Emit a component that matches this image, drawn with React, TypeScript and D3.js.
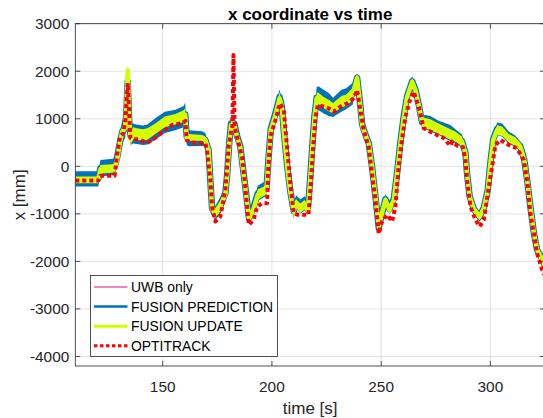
import React from "react";
import * as d3 from "d3";

const W = 543;
const H = 418;
const M = { left: 75.3, right: 545, top: 23.7, bottom: 366 };
const FONT = "'Liberation Sans', Arial, Helvetica, sans-serif";
const AX = "#262626";

// axis settings
const xTicks = [150, 200, 250, 300];
const yTicks = [-4000, -3000, -2000, -1000, 0, 1000, 2000, 3000];

// FUSION series, sampled times [s]
const fusT = [
  110, 120.5, 121.5, 128, 129.2, 130.2, 131.5, 132.8, 133.4, 134.0,
  134.6, 135.3, 136.5, 138, 141, 143, 146.6, 151, 155.8, 159.6,
  160.3, 161.0, 162, 168, 169.5, 171, 171.8, 172.6, 173.8, 176.4,
  178.7, 179.5, 180.5, 181.3, 182.8, 184, 185.5, 187, 188.5, 189.5,
  191.5, 193.5, 196, 197.5, 198.5, 199.5, 201.6, 203.5, 204.5, 205.5,
  207, 208.5, 210, 211, 213, 215, 216.5, 217.5, 218.5, 219.5,
  220.5, 221.4, 223.7, 226, 228, 231.8, 234, 237, 239, 240.5,
  241.3, 242.8, 244.3, 245.8, 247.4, 248.9, 250.4, 252, 253.8, 255.8,
  257.3, 258.8, 260.4, 261.9, 264.2, 265.7, 267.2, 268.7, 270.3, 272.5,
  276.3, 281.7, 284, 287, 288.6, 289.3, 290.5, 292.5, 295.1, 297,
  298.8, 300, 301.3, 303.1, 305.4, 308.4, 311.4, 313.7, 315.5, 316.8,
  318.3, 319.9, 321.4, 323.7, 325.5,
];

// FUSION UPDATE: centre and half spread of the noisy band [mm]
const updMid = [
  -285, -285, -60, -40, 150, 450, 730, 800, 1200, 2020,
  1100, 560, 700, 680, 660, 680, 790, 935, 990, 1055,
  1085, 600, 610, 600, 560, 345, -285, -880, -1000, -835,
  -590, -200, 500, 870, 870, 625, 415, -145, -705, -1090,
  -915, -600, -530, -495, 205, 765, 1080, 1430, 1255, 695,
  -5, -565, -950, -775, -880, -810, -915, -285, 415, 1045,
  1430, 1430, 1340, 1280, 1220, 1360, 1390, 1520, 1860, 1255,
  870, 660, 485, -5, -635, -1265, -985, -705, -915, -705,
  -145, 485, 1045, 1465, 1780, 1605, 1290, 940, 905, 880,
  790, 670, 625, 520, 275, -145, -635, -915, -1055, -880,
  -495, 65, 555, 765, 740, 590, 520, 415, 135, -285,
  -845, -1405, -1755, -1965, -2150,
];
const updHalf = [
  70, 70, 90, 90, 100, 100, 120, 110, 200, 130,
  200, 120, 120, 120, 120, 120, 110, 115, 110, 125,
  135, 100, 70, 60, 60, 60, 60, 80, 100, 115,
  110, 100, 100, 105, 105, 90, 90, 80, 80, 100,
  110, 110, 100, 100, 80, 90, 100, 130, 100, 80,
  80, 80, 120, 90, 100, 100, 100, 80, 80, 100,
  120, 120, 120, 120, 110, 120, 120, 130, 80, 80,
  80, 80, 80, 80, 80, 90, 80, 80, 80, 80,
  80, 80, 90, 100, 80, 80, 80, 100, 110, 110,
  110, 110, 110, 100, 90, 80, 80, 80, 80, 80,
  80, 80, 80, 100, 100, 90, 90, 80, 80, 80,
  80, 80, 80, 80, 80,
];

// FUSION PREDICTION: centre and half spread [mm]
const predMid = [
  -265, -265, -40, -10, 200, 450, 730, 800, 1150, 1780,
  1000, 650, 690, 675, 655, 670, 785, 925, 975, 1045,
  1095, 625, 590, 585, 560, 345, -285, -870, -1000, -825,
  -565, -180, 520, 900, 900, 650, 430, -130, -690, -1080,
  -880, -570, -500, -470, 215, 790, 1110, 1460, 1270, 710,
  10, -550, -940, -740, -840, -780, -870, -270, 430, 1070,
  1440, 1430, 1360, 1300, 1240, 1380, 1420, 1530, 1860, 1270,
  880, 670, 490, 0, -640, -1290, -990, -690, -900, -680,
  -140, 500, 1070, 1480, 1790, 1610, 1300, 930, 930, 900,
  810, 700, 630, 530, 280, -140, -630, -910, -1060, -870,
  -490, 70, 570, 790, 760, 600, 530, 420, 140, -280,
  -840, -1400, -1760, -1950, -2140,
];
const predHalf = [
  160, 160, 175, 175, 200, 250, 230, 210, 200, 180,
  200, 200, 210, 205, 205, 210, 225, 225, 215, 225,
  245, 175, 170, 155, 140, 100, 100, 120, 150, 175,
  185, 150, 150, 180, 180, 120, 120, 110, 110, 130,
  150, 160, 160, 150, 110, 110, 120, 160, 120, 100,
  100, 100, 150, 130, 150, 150, 150, 100, 100, 120,
  235, 250, 250, 240, 200, 230, 220, 230, 100, 100,
  100, 100, 100, 100, 100, 150, 110, 110, 110, 110,
  100, 100, 110, 130, 110, 100, 100, 130, 150, 160,
  150, 170, 150, 140, 110, 100, 100, 100, 110, 100,
  100, 100, 110, 130, 140, 130, 120, 100, 100, 100,
  100, 100, 110, 120, 110,
];

// UWB only (hidden underneath the fusion estimates)
const uwbX = updMid;

// OPTITRACK ground truth
const optT = [
  110, 120.5, 121.4, 128, 129, 130.5, 132, 133, 134, 135.2,
  136.5, 139, 142.8, 146.6, 151, 154.3, 158.8, 160.4, 161, 162.7,
  167, 169.5, 170.3, 171.8, 172.6, 174.1, 176.4, 178.7, 180.2, 181.4,
  181.9, 182.4, 182.9, 184, 186.3, 187.8, 189.4, 191.6, 193.2, 195.5,
  197.8, 198.2, 199.3, 201.6, 203.6, 205.4, 206.9, 208.4, 210, 212,
  216.7, 217.6, 219.1, 220, 221, 223.7, 226, 228.3, 231.3, 234.4,
  237.4, 239, 240.5, 242, 244.3, 245.8, 247.4, 248.9, 250.4, 252.7,
  255, 256.5, 258, 259.5, 261.1, 263.4, 264.9, 267.2, 269.5, 272.5,
  276, 278.5, 281.7, 282.5, 285, 287.5, 288.6, 289.3, 290.9, 293.2,
  295.1, 297, 299.3, 300.8, 302.3, 304.6, 308.4, 312.2, 315.3, 316.8,
  318.3, 319.9, 321.4, 323.7, 325.5,
];
const optX = [
  -300, -300, -200, -200, 200, 625, 700, 1000, 1750, 600,
  570, 570, 490, 600, 765, 870, 905, 955, 550, 500,
  490, 485, 345, -285, -845, -1160, -1055, -500, 415, 765,
  800, 2340, 835, 625, 205, -425, -1230, -1125, -850, -775,
  -775, -145, 625, 975, 1325, 1185, 415, -355, -985, -1020,
  -1020, -495, 555, 1045, 1290, 1255, 1220, 1150, 1255, 1325,
  1430, 1605, 1185, 765, 415, -145, -705, -1420, -1160, -1020,
  -1160, -850, -5, 555, 1045, 1430, 1570, 1255, 800, 730,
  650, 600, 430, 520, 430, 400, 135, -285, -845, -1125,
  -1265, -1125, -425, -5, 450, 555, 450, 380, 135, -285,
  -985, -1405, -1830, -2180, -2350,
];

const legendItems = [
  { label: "UWB only", color: "#ee86c6", width: 2, dash: "" },
  { label: "FUSION PREDICTION", color: "#0072bd", width: 2.5, dash: "" },
  { label: "FUSION UPDATE", color: "#d4ff00", width: 3, dash: "" },
  { label: "OPTITRACK", color: "#ff0000", width: 3, dash: "3.5 2.5" },
];

export default function App() {
  const x = d3.scaleLinear().domain([110, 325]).range([M.left, M.right]);
  const y = d3.scaleLinear().domain([-4200, 3000]).range([M.bottom, M.top]);

  const idx = fusT.map((_, i) => i);
  const line = (vals: number[]) =>
    d3.line<number>().x((i) => x(fusT[i])).y((i) => y(vals[i]))(idx) || "";
  const band = (mid: number[], half: number[]) =>
    d3
      .area<number>()
      .x((i) => x(fusT[i]))
      .y0((i) => y(mid[i] - half[i]))
      .y1((i) => y(mid[i] + half[i]))(idx) || "";
  const optPath =
    d3
      .line<number>()
      .x((i) => x(optT[i]))
      .y((i) => y(optX[i]))(optT.map((_, i) => i)) || "";

  const cx = (M.left + M.right) / 2;
  const cy = (M.top + M.bottom) / 2;

  return (
    <svg
      width={W}
      height={H}
      style={{ position: "absolute", left: 0, top: 0, background: "#fff" }}
      fontFamily={FONT}
    >
      <defs>
        <clipPath id="plot">
          <rect x={M.left} y={M.top} width={M.right - M.left} height={M.bottom - M.top} />
        </clipPath>
      </defs>
      <rect width={W} height={H} fill="#fff" />

      {/* grid */}
      <g stroke="#e3e3e3" strokeWidth={1}>
        {xTicks.map((t) => (
          <line key={t} x1={x(t)} x2={x(t)} y1={M.top} y2={M.bottom} />
        ))}
        {yTicks.map((t) => (
          <line key={t} x1={M.left} x2={M.right} y1={y(t)} y2={y(t)} />
        ))}
      </g>

      {/* data */}
      <g clipPath="url(#plot)" strokeLinejoin="round" fill="none">
        <path d={line(uwbX)} stroke="#ee86c6" strokeWidth={1.5} />
        <path d={band(predMid, predHalf)} fill="#0072bd" stroke="none" />
        <path d={line(predMid)} stroke="#0072bd" strokeWidth={6.5} />
        <path d={band(updMid, updHalf)} fill="#d4ff00" stroke="none" />
        <path d={line(updMid)} stroke="#d4ff00" strokeWidth={4.5} />
        <path d={optPath} stroke="#ff0000" strokeWidth={4} strokeDasharray="4 3" />
      </g>

      {/* axes box */}
      <rect
        x={M.left}
        y={M.top}
        width={M.right - M.left}
        height={M.bottom - M.top}
        fill="none"
        stroke={AX}
        strokeWidth={0.8}
      />
      <g stroke={AX} strokeWidth={0.8}>
        {xTicks.map((t) => (
          <g key={t}>
            <line x1={x(t)} x2={x(t)} y1={M.bottom} y2={M.bottom - 5} />
            <line x1={x(t)} x2={x(t)} y1={M.top} y2={M.top + 5} />
          </g>
        ))}
        {yTicks.map((t) => (
          <g key={t}>
            <line x1={M.left} x2={M.left + 5} y1={y(t)} y2={y(t)} />
            <line x1={M.right} x2={M.right - 5} y1={y(t)} y2={y(t)} />
          </g>
        ))}
      </g>

      {/* tick labels */}
      <g fill={AX} fontSize={15.4}>
        {xTicks.map((t) => (
          <text key={t} x={x(t)} y={392} textAnchor="middle">
            {t}
          </text>
        ))}
        {yTicks.map((t) => (
          <text key={t} x={M.left - 6} y={y(t)} dy="0.36em" textAnchor="end">
            {t}
          </text>
        ))}
      </g>

      {/* labels */}
      <text x={cx} y={19.5} textAnchor="middle" fontSize={17} fontWeight="bold" fill="#000">
        x coordinate vs time
      </text>
      <text x={cx} y={414} textAnchor="middle" fontSize={17} fill={AX}>
        time [s]
      </text>
      <text
        transform={`translate(25, ${cy}) rotate(-90)`}
        textAnchor="middle"
        fontSize={17}
        fill={AX}
      >
        x [mm]
      </text>

      {/* legend */}
      <g>
        <rect x={90.5} y={275.5} width={187} height={81} fill="#fff" stroke={AX} strokeWidth={0.8} />
        {legendItems.map((d, i) => {
          const ly = 287 + i * 19.6;
          return (
            <g key={d.label}>
              <line
                x1={94}
                x2={127.5}
                y1={ly}
                y2={ly}
                stroke={d.color}
                strokeWidth={d.width}
                strokeDasharray={d.dash || undefined}
              />
              <text x={131} y={ly} dy="0.36em" fontSize={13.9} fill="#000">
                {d.label}
              </text>
            </g>
          );
        })}
      </g>
    </svg>
  );
}
